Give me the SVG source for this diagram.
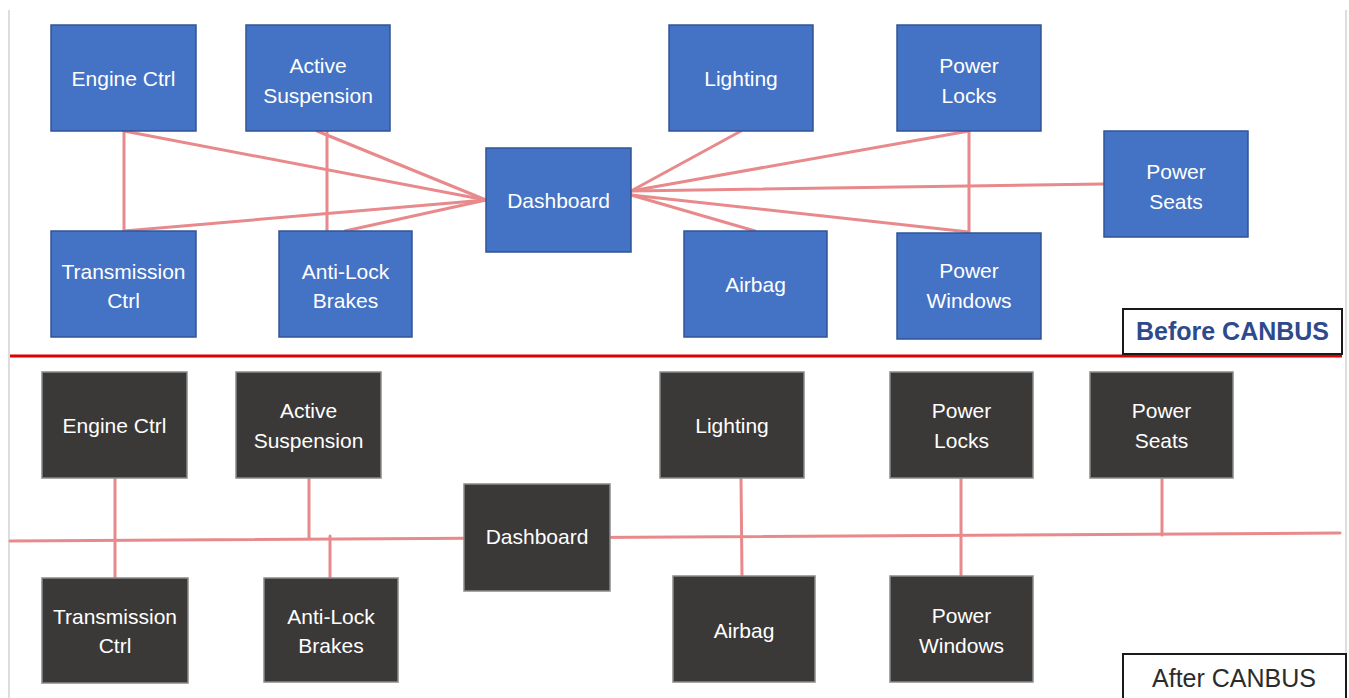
<svg xmlns="http://www.w3.org/2000/svg" width="1349" height="698" viewBox="0 0 1349 698">
  <style>
    .blue rect { fill: #4472C4; stroke: #2F5597; stroke-width: 1.5; }
    .dark rect { fill: #3B3838; stroke: #8A8A8A; stroke-width: 1.5; }
    .node text { fill: #FFFFFF; font-family: "Liberation Sans", Arial, sans-serif; font-size: 21px; text-anchor: middle; }
    .wire { stroke: #E8898B; stroke-width: 3; fill: none; stroke-linecap: round; }
    .frame { stroke: #DDDDDD; stroke-width: 2; }
    .tag rect { fill: #FFFFFF; stroke: #1A1A1A; stroke-width: 2; }
  </style>

  <rect x="0" y="0" width="1349" height="698" fill="#FFFFFF"/>
  <line class="frame" x1="9" y1="10" x2="9" y2="698"/>
  <line class="frame" x1="1346" y1="10" x2="1346" y2="698"/>

  <!-- point-to-point wiring (top half) and shared bus (bottom half) -->
  <g id="connectors">
    <line class="wire" x1="124" y1="131" x2="486" y2="200"/>
    <line class="wire" x1="124" y1="131" x2="124" y2="231"/>
    <line class="wire" x1="124" y1="231" x2="486" y2="200"/>
    <line class="wire" x1="317" y1="131" x2="486" y2="200"/>
    <line class="wire" x1="327" y1="131" x2="327" y2="231"/>
    <line class="wire" x1="345" y1="231" x2="486" y2="200"/>
    <line class="wire" x1="631" y1="191" x2="741" y2="131"/>
    <line class="wire" x1="631" y1="191" x2="969" y2="131"/>
    <line class="wire" x1="631" y1="191" x2="1104" y2="184"/>
    <line class="wire" x1="631" y1="195" x2="755" y2="231"/>
    <line class="wire" x1="631" y1="195" x2="969" y2="232"/>
    <line class="wire" x1="969" y1="131" x2="969" y2="232"/>

    <line class="wire" x1="10" y1="541" x2="1340" y2="533"/>
    <line class="wire" x1="115" y1="478" x2="115" y2="578"/>
    <line class="wire" x1="309" y1="478" x2="309" y2="538"/>
    <line class="wire" x1="330" y1="536" x2="330" y2="578"/>
    <line class="wire" x1="741" y1="478" x2="742" y2="576"/>
    <line class="wire" x1="961" y1="478" x2="961" y2="576"/>
    <line class="wire" x1="1162" y1="478" x2="1162" y2="535"/>
  </g>

  <!-- divider between the two layouts -->
  <line x1="10" y1="356" x2="1342" y2="356" stroke="#E00000" stroke-width="3"/>

  <!-- Before CANBUS -->
  <g id="b-engine" class="node blue"><rect x="51" y="25" width="145" height="106"/><text x="123.5" y="86">Engine Ctrl</text></g>
  <g id="b-suspension" class="node blue"><rect x="246" y="25" width="144" height="106"/><text x="318" y="73">Active</text><text x="318" y="103">Suspension</text></g>
  <g id="b-lighting" class="node blue"><rect x="669" y="25" width="144" height="106"/><text x="741" y="86">Lighting</text></g>
  <g id="b-locks" class="node blue"><rect x="897" y="25" width="144" height="106"/><text x="969" y="73">Power</text><text x="969" y="103">Locks</text></g>
  <g id="b-dashboard" class="node blue"><rect x="486" y="148" width="145" height="104"/><text x="558.5" y="208">Dashboard</text></g>
  <g id="b-seats" class="node blue"><rect x="1104" y="131" width="144" height="106"/><text x="1176" y="179">Power</text><text x="1176" y="209">Seats</text></g>
  <g id="b-transmission" class="node blue"><rect x="51" y="231" width="145" height="106"/><text x="123.5" y="279">Transmission</text><text x="123.5" y="308">Ctrl</text></g>
  <g id="b-abs" class="node blue"><rect x="279" y="231" width="133" height="106"/><text x="345.5" y="279">Anti-Lock</text><text x="345.5" y="308">Brakes</text></g>
  <g id="b-airbag" class="node blue"><rect x="684" y="231" width="143" height="106"/><text x="755.5" y="292">Airbag</text></g>
  <g id="b-windows" class="node blue"><rect x="897" y="233" width="144" height="106"/><text x="969" y="278">Power</text><text x="969" y="308">Windows</text></g>

  <g id="label-before" class="tag">
    <rect x="1123" y="309" width="219" height="45"/>
    <text x="1232.5" y="340" fill="#2E4A8C" font-family="'Liberation Sans', Arial, sans-serif" font-size="25" font-weight="bold" text-anchor="middle">Before CANBUS</text>
  </g>

  <!-- After CANBUS -->
  <g id="a-engine" class="node dark"><rect x="42" y="372" width="145" height="106"/><text x="114.5" y="433">Engine Ctrl</text></g>
  <g id="a-suspension" class="node dark"><rect x="236" y="372" width="145" height="106"/><text x="308.5" y="418">Active</text><text x="308.5" y="448">Suspension</text></g>
  <g id="a-dashboard" class="node dark"><rect x="464" y="484" width="146" height="107"/><text x="537" y="544">Dashboard</text></g>
  <g id="a-transmission" class="node dark"><rect x="42" y="578" width="146" height="105"/><text x="115" y="624">Transmission</text><text x="115" y="653">Ctrl</text></g>
  <g id="a-abs" class="node dark"><rect x="264" y="578" width="134" height="104"/><text x="331" y="624">Anti-Lock</text><text x="331" y="653">Brakes</text></g>
  <g id="a-lighting" class="node dark"><rect x="660" y="372" width="144" height="106"/><text x="732" y="433">Lighting</text></g>
  <g id="a-locks" class="node dark"><rect x="890" y="372" width="143" height="106"/><text x="961.5" y="418">Power</text><text x="961.5" y="448">Locks</text></g>
  <g id="a-seats" class="node dark"><rect x="1090" y="372" width="143" height="106"/><text x="1161.5" y="418">Power</text><text x="1161.5" y="448">Seats</text></g>
  <g id="a-airbag" class="node dark"><rect x="673" y="576" width="142" height="106"/><text x="744" y="638">Airbag</text></g>
  <g id="a-windows" class="node dark"><rect x="890" y="576" width="143" height="106"/><text x="961.5" y="623">Power</text><text x="961.5" y="653">Windows</text></g>

  <g id="label-after" class="tag">
    <rect x="1123" y="654" width="223" height="50"/>
    <text x="1234" y="687" fill="#2B2B2B" font-family="'Liberation Sans', Arial, sans-serif" font-size="25" text-anchor="middle">After CANBUS</text>
  </g>
</svg>
